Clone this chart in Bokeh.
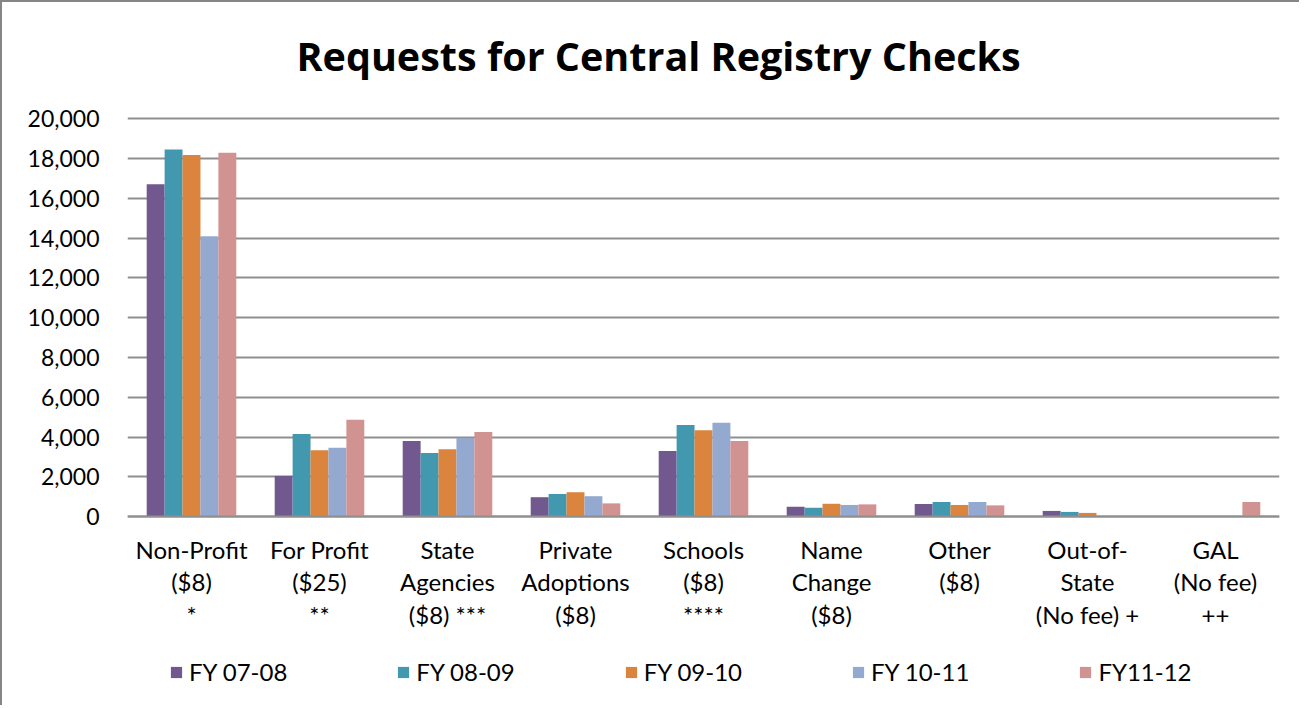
from bokeh.plotting import figure
from bokeh.models import (ColumnDataSource, FactorRange, Range1d, FixedTicker,
                          NumeralTickFormatter, Legend, LegendItem)
from bokeh.transform import dodge
from bokeh.embed import file_html
from bokeh.resources import INLINE

categories = ["Non-Profit\n($8)\n*", "For Profit\n($25)\n**",
              "State\nAgencies\n($8) ***", "Private\nAdoptions\n($8)",
              "Schools\n($8)\n****", "Name\nChange\n($8)", "Other\n($8)",
              "Out-of-\nState\n(No fee) +", "GAL\n(No fee)\n++"]
series_names = ["FY 07-08", "FY 08-09", "FY 09-10", "FY 10-11", "FY11-12"]
fy_07_08 = [16700, 2050, 3800, 980, 3300, 500, 640, 290, 0]
fy_08_09 = [18450, 4150, 3200, 1140, 4610, 450, 740, 240, 0]
fy_09_10 = [18170, 3340, 3390, 1230, 4350, 650, 590, 190, 0]
fy_10_11 = [14090, 3460, 3950, 1030, 4720, 590, 740, 0, 0]
fy_11_12 = [18290, 4870, 4260, 670, 3800, 620, 570, 0, 740]
y_ticks = list(range(0, 20001, 2000))

colors = ["#71588F", "#4198AF", "#DB843D", "#93A9CF", "#D19392"]

FONT = "Lato"

# frame extends below zero so that category labels and legend sit inside it
p = figure(x_range=FactorRange(*categories, range_padding=0),
           y_range=Range1d(-9487, 20613),
           frame_width=1152, frame_height=599,
           output_backend="svg", toolbar_location=None,
           min_border_left=125, min_border_right=20, min_border_top=104,
           min_border_bottom=0)
p.styles = {"border-left": "2px solid #868686", "border-top": "2px solid #868686"}
p.outline_line_color = None
p.xgrid.grid_line_color = None
p.ygrid.grid_line_color = "#8f8f8f"
p.ygrid.grid_line_width = 2

p.title.text = "Requests for Central Registry Checks"
p.title.align = "left"
p.title.offset = 169
p.title.text_font = "Open Sans"
p.title.text_font_style = "bold"
p.title.text_font_size = "39.5px"
p.title.text_color = "#000000"
p.title.standoff = 48

src = ColumnDataSource(dict(cat=categories, s0=fy_07_08, s1=fy_08_09, s2=fy_09_10,
                            s3=fy_10_11, s4=fy_11_12))
offsets = [-0.28, -0.14, 0.0, 0.14, 0.28]
items = []
for i in range(5):
    r = p.vbar(x=dodge("cat", offsets[i], range=p.x_range), top="s%d" % i, width=0.14,
               source=src, fill_color=colors[i], line_color=None)
    items.append(LegendItem(label=series_names[i], renderers=[r]))

# y axis
p.yaxis.ticker = FixedTicker(ticks=y_ticks)
p.yaxis.formatter = NumeralTickFormatter(format="0,0")
p.yaxis.axis_line_color = None
p.yaxis.major_tick_line_color = None
p.yaxis.minor_tick_line_color = None
p.yaxis.major_label_standoff = 22
p.yaxis.major_label_text_font = FONT
p.yaxis.major_label_text_font_size = "23px"
p.yaxis.major_label_text_color = "#000000"

# x axis drawn at value 0
p.xaxis.fixed_location = 0
p.xaxis.axis_line_color = "#8f8f8f"
p.xaxis.axis_line_width = 2
p.xaxis.major_tick_line_color = None
p.xaxis.minor_tick_line_color = None
p.xaxis.major_label_text_font = FONT
p.xaxis.major_label_text_font_size = "24px"
p.xaxis.major_label_text_color = "#000000"
p.xaxis.major_label_text_line_height = 1.12
p.xaxis.major_label_standoff = 12

legend = Legend(items=items, orientation="horizontal", location=(42, 19),
                glyph_width=14, glyph_height=14, label_standoff=6, spacing=109,
                padding=0, margin=0, border_line_color=None, background_fill_alpha=0,
                label_text_font=FONT, label_text_font_size="24px",
                label_text_color="#000000")
p.add_layout(legend, "center")

open("out.html", "w").write(file_html(p, INLINE))
